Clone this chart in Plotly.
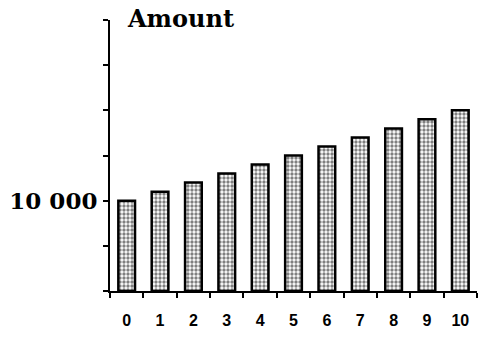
import plotly.graph_objects as go

years = ["0", "1", "2", "3", "4", "5", "6", "7", "8", "9", "10"]
amounts = [10000, 11000, 12000, 13000, 14000, 15000, 16000, 17000, 18000, 19000, 20000]
y_tickvals = [0, 5000, 10000, 15000, 20000, 25000, 30000]
y_ticktext = ["", "", "10 000", "", "", "", ""]

fig = go.Figure(go.Bar(
    x=years, y=amounts, width=0.5,
    marker=dict(color="white",
                line=dict(color="black", width=2.5),
                pattern=dict(shape=".", fgcolor="black", bgcolor="white", size=4, solidity=0.55)),
))

fig.update_layout(
    width=480, height=340,
    margin=dict(l=110, r=3, t=20, b=49),
    plot_bgcolor="white", paper_bgcolor="white",
    showlegend=False,
)
fig.update_xaxes(
    type="category", range=[-0.5, 10.5], tickson="boundaries",
    showline=True, linecolor="black", linewidth=2,
    ticks="outside", ticklen=5, tickwidth=2, tickcolor="black",
    showgrid=False, zeroline=False, ticklabelstandoff=14,
    tickfont=dict(family="Liberation Sans", size=16, color="black", weight="bold"),
)
fig.update_yaxes(
    range=[0, 30000], tickvals=y_tickvals, ticktext=y_ticktext,
    showline=True, linecolor="black", linewidth=2,
    ticks="outside", ticklen=5, tickwidth=2, tickcolor="black",
    showgrid=False, zeroline=False, ticklabelstandoff=1,
    tickfont=dict(family="DejaVu Serif", size=23, color="black", weight="bold"),
)
fig.add_annotation(
    text="Amount", xref="paper", yref="paper", x=0.04, y=1.0 + 2 / 271,
    xanchor="left", yanchor="middle", showarrow=False,
    font=dict(family="DejaVu Serif", size=24, color="black", weight="bold"),
)
fig.write_html("out.html", config={"displayModeBar": False},
               post_script="document.body.style.margin='0';")
